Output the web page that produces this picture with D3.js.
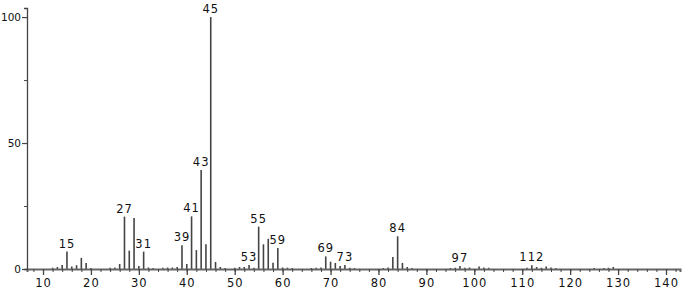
<!DOCTYPE html>
<html><head><meta charset="utf-8">
<script src="https://cdn.jsdelivr.net/npm/d3@7"></script>
<style>
body{margin:0;background:#fff;}
text{font-family:"DejaVu Sans",sans-serif;}
</style></head>
<body><svg id="c" width="683" height="291"></svg>
<script>
const mz =        [12, 13, 14, 15, 16, 17, 18, 19, 20, 24, 25, 26, 27, 28, 29, 30, 31, 32, 33, 35, 36, 37, 38, 39, 40, 41, 42, 43, 44, 45, 46, 47, 48, 50, 51, 52, 53, 54, 55, 56, 57, 58, 59, 60, 61, 62, 66, 67, 68, 69, 70, 71, 72, 73, 74, 75, 81, 82, 83, 84, 85, 86, 87, 95, 96, 97, 98, 99, 101, 102, 103, 111, 112, 113, 114, 115, 116, 117, 125, 127, 128, 129];
const intensity = [0.5,0.8,1.6,6.9,1.0,1.5,4.4,2.4,0.4,0.5,0.6,2.0,20.8,7.3,20.2,1.2,6.9,0.6,0.4,0.5,0.6,0.6,0.8,9.4,2.0,20.9,7.5,39.3,9.8,100, 2.8,0.8,0.4,0.5,0.8,0.8,1.6,0.5,16.8,9.8,12.0,2.5,8.3,0.6,0.5,0.4,0.4,0.5,0.6,5.0,2.9,2.4,1.2,1.6,0.5,0.4,0.4,0.6,4.8,13.0,2.4,0.8,0.4,0.4,0.5,1.2,0.5,0.6,1.0,0.6,0.5,0.5,1.5,0.8,0.5,1.0,0.6,0.4,0.4,0.4,0.5,0.8];
const labeled = [15, 27, 31, 39, 41, 43, 45, 53, 55, 59, 69, 73, 84, 97, 112];
const xTickLabels = [10,20,30,40,50,60,70,80,90,100,110,120,130,140];
const yTickLabels = [0,50,100];

const svg = d3.select("#c");
const x = d3.scaleLinear().domain([6.66, 142.92]).range([27, 680]);
const y = d3.scaleLinear().domain([0, 103.6]).range([269, 8]);

// bars
svg.append("g").selectAll("line").data(mz).join("line")
  .attr("x1", d => x(d)).attr("x2", d => x(d))
  .attr("y1", y(0)).attr("y2", (d,i) => y(intensity[i]))
  .attr("stroke", "#444").attr("stroke-width", 1.6);

// x axis
const gx = svg.append("g").attr("transform", `translate(0,${y(0)})`);
gx.call(d3.axisBottom(x).tickValues(d3.range(8, 143, 2)).tickSize(3).tickFormat(""))
  .call(g => g.select(".domain").attr("stroke", "#666").attr("stroke-width", 2))
  .call(g => g.selectAll(".tick line").attr("stroke", "#444"));
const gx2 = svg.append("g").attr("transform", `translate(0,${y(0)})`);
gx2.call(d3.axisBottom(x).tickValues(xTickLabels).tickSize(6).tickPadding(4))
  .call(g => g.select(".domain").remove())
  .call(g => g.selectAll(".tick line").attr("stroke", "#444").attr("stroke-width", 1.3))
  .call(g => g.selectAll("text").attr("font-size", 11.5).attr("fill", "#111").attr("letter-spacing", "1px")
     .attr("font-family", "'DejaVu Sans',sans-serif"));

// y axis
const gy = svg.append("g").attr("transform", `translate(${x(6.66)},0)`);
gy.call(d3.axisLeft(y).tickValues([25, 75]).tickSize(3).tickFormat(""))
  .call(g => g.select(".domain").attr("stroke", "#444").attr("stroke-width", 1.3))
  .call(g => g.selectAll(".tick line").attr("stroke", "#444"));
const gy2 = svg.append("g").attr("transform", `translate(${x(6.66)},0)`);
gy2.call(d3.axisLeft(y).tickValues(yTickLabels).tickSize(5).tickPadding(1))
  .call(g => g.select(".domain").remove())
  .call(g => g.selectAll(".tick line").attr("stroke", "#444").attr("stroke-width", 1.2))
  .call(g => g.selectAll("text").attr("font-size", 10.5).attr("fill", "#111").attr("letter-spacing", "0px")
     .attr("font-family", "'DejaVu Sans',sans-serif"));

// peak labels
svg.append("g").selectAll("text").data(labeled).join("text")
  .attr("x", d => x(d))
  .attr("y", d => y(intensity[mz.indexOf(d)]) - 4)
  .attr("text-anchor", "middle")
  .attr("font-size", 11.5).attr("letter-spacing", "1px").attr("fill", "#111")
  .text(d => d);
</script></body></html>
